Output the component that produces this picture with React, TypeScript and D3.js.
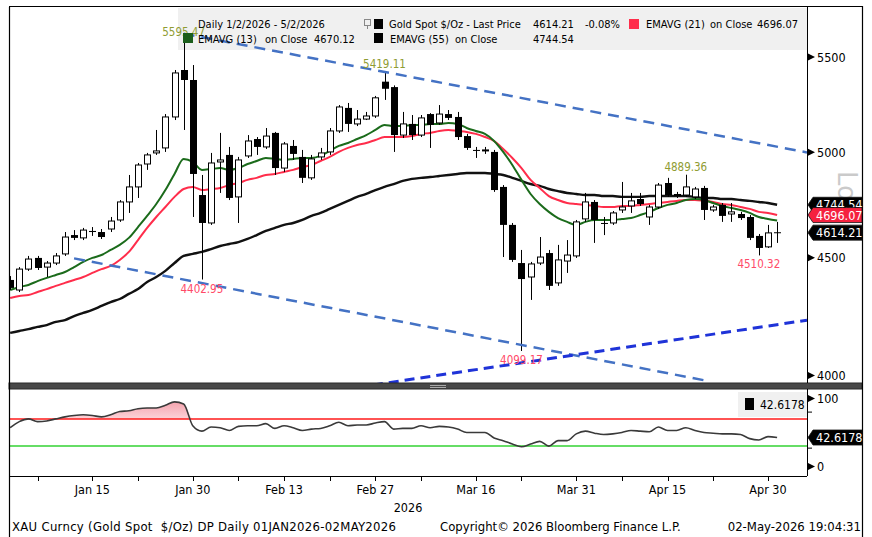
import React from "react";
import * as d3 from "d3";

const dates: string[] = [
  "2026-01-02","2026-01-05","2026-01-06","2026-01-07","2026-01-08","2026-01-09","2026-01-12","2026-01-13","2026-01-14","2026-01-15","2026-01-16","2026-01-19","2026-01-20","2026-01-21","2026-01-22","2026-01-23","2026-01-26","2026-01-27","2026-01-28","2026-01-29","2026-01-30",
  "2026-02-02","2026-02-03","2026-02-04","2026-02-05","2026-02-06","2026-02-09","2026-02-10","2026-02-11","2026-02-12","2026-02-13","2026-02-16","2026-02-17","2026-02-18","2026-02-19","2026-02-20","2026-02-23","2026-02-24","2026-02-25","2026-02-26","2026-02-27",
  "2026-03-02","2026-03-03","2026-03-04","2026-03-05","2026-03-06","2026-03-09","2026-03-10","2026-03-11","2026-03-12","2026-03-13","2026-03-16","2026-03-17","2026-03-18","2026-03-19","2026-03-20","2026-03-23","2026-03-24","2026-03-25","2026-03-26","2026-03-27","2026-03-30","2026-03-31",
  "2026-04-01","2026-04-02","2026-04-06","2026-04-07","2026-04-08","2026-04-09","2026-04-10","2026-04-13","2026-04-14","2026-04-15","2026-04-16","2026-04-17","2026-04-20","2026-04-21","2026-04-22","2026-04-23","2026-04-24","2026-04-27","2026-04-28","2026-04-29","2026-04-30",
  "2026-05-01",
];

const open: number[] = [4401,4357,4449,4499,4458,4476,4517,4603,4590,4622, 4617,4631,4673,4758,4830,4942,4997,5022,5180,5429, 5375,4791,4659,4952,4987,4782,4982,5067,5027,5098, 4922,5032,4977,4874,4977,5002,5108,5227,5144,5169, 5185,5366,5337,5087,5144,5087,5195,5149,5195,5180, 5082,5012,5010,5002,4830,4650,4476,4414,4476,4521, 4388,4485,4508,4678,4758,4659,4659,4720,4739,4772, 4687,4734,4849,4796,4791,4782,4825,4720,4744,4701, 4701,4687,4599,4549,4616];
const high: number[] = [4418,4458,4508,4508,4485,4521,4617,4626,4636,4640, 4631,4687,4767,4888,4947,4997,5113,5195,5429,5595.47, 5456,4888,4997,5098,5027,4977,5087,5077,5123,5103, 5052,5062,5012,4987,5022,5123,5242,5253,5216,5206, 5290,5419.11,5346,5206,5190,5190,5200,5242,5216,5206, 5093,5027,5027,5012,4839,4659,4535,4481,4594,4535, 4558,4580,4673,4801,4767,4687,4715,4854,4801,4801, 4744,4849,4874,4806,4889.36,4830,4835,4744,4753,4753, 4711,4696,4608,4650,4664];
const low: number[] = [4357,4348,4441,4445,4414,4467,4508,4580,4580,4599, 4585,4617,4664,4706,4777,4913,4987,5002,5164,5113, 4687,4402.95,4650,4801,4767,4659,4972,4987,5017,4888, 4903,4962,4849,4864,4962,4987,5098,5103,5133,5164, 5175,5269,5002,5072,5062,5077,5022,5139,5164,5062, 5012,4972,4992,4806,4503,4481,4099.17,4314,4467,4357, 4375,4432,4499,4664,4567,4603,4650,4706,4706,4739, 4650,4725,4782,4777,4782,4772,4673,4711,4664,4664, 4673,4580,4510.32,4544,4567];
const close: number[] = [4366,4449,4494,4454,4476,4508,4594,4590,4626,4617, 4594,4668,4758,4830,4937,4987,5007,5180,5413,5375, 4893,4659,4947,4962,4777,4962,5057,5027,5082,4922, 5042,4992,4874,4967,4997,5108,5232,5144,5169,5185, 5280,5328,5087,5144,5087,5175,5139,5195,5175,5077, 5022,5007,5012,4815,4650,4490,4405,4472,4503,4375, 4490,4512,4664,4758,4673,4655,4706,4734,4763,4748, 4734,4839,4791,4786,4830,4820,4720,4734,4692,4711, 4682,4590,4544,4613,4614.21];

const ema13: number[] = [4357,4370,4379,4396,4410,4423,4436,4458,4481,4499, 4512,4535,4558,4590,4640,4692,4748,4815,4893,4967, 4952,4913,4917,4922,4913,4922,4942,4957,4972,4967, 4962,4967,4972,4972,4982,5007,5032,5047,5067,5087, 5113,5139,5133,5133,5139,5139,5144,5144,5149,5144, 5123,5108,5093,5057,5002,4937,4864,4796,4748,4711, 4682,4664,4650,4664,4673,4673,4673,4678,4682,4696, 4711,4729,4744,4753,4767,4772,4767,4753,4739,4729, 4720,4706,4687,4678,4670.12];
const ema21: number[] = [4322,4331,4335,4348,4361,4375,4388,4401,4414,4432, 4449,4463,4490,4526,4580,4636,4687,4734,4782,4820, 4830,4815,4820,4825,4839,4849,4864,4874,4888,4893, 4903,4913,4927,4937,4957,4977,5002,5022,5037,5047, 5062,5077,5077,5077,5082,5093,5098,5108,5113,5108, 5103,5093,5077,5057,5017,4972,4922,4864,4825,4786, 4767,4753,4748,4744,4739,4734,4734,4739,4739,4744, 4748,4753,4758,4763,4767,4767,4763,4758,4748,4744, 4734,4725,4711,4706,4696.07];
const ema55: number[] = [4174,4182,4190,4199,4207,4220,4228,4245,4258,4271, 4288,4305,4318,4340,4361,4392,4414,4441,4476,4508, 4517,4526,4539,4553,4562,4571,4585,4603,4622,4636, 4650,4659,4673,4692,4706,4725,4744,4763,4782,4796, 4815,4830,4844,4859,4869,4874,4878,4883,4888,4893, 4898,4898,4898,4893,4888,4874,4859,4844,4835,4820, 4810,4801,4796,4791,4791,4786,4786,4782,4782,4782, 4786,4786,4786,4786,4786,4782,4777,4777,4772,4772, 4767,4763,4758,4753,4744.54];
const rsi: number[] = [57,66,70,66,67,70,73,75,76,75, 73,76,81,82,85,86,86,90,95,92, 60,52,58,57,53,59,60,60,63,56, 60,57,53,55,56,60,65,60,61,61, 64,66,55,56,56,60,57,59,58,55, 50,50,50,42,38,33,29,33,37,30, 38,38,48,52,49,47,48,50,53,52, 51,58,53,53,57,53,50,49,48,48, 47,41,39,44,42.6178];

const priceTicks: number[] = [4000, 4500, 5000, 5500];
const rsiTicks: number[] = [0, 100];
const rsiMinorTicks: number[] = [80, 27];
const rsiLevels: number[] = [70, 30];
const labelDates: string[] = ["2026-01-15","2026-01-30","2026-02-13","2026-02-27","2026-03-16","2026-03-31","2026-04-15","2026-04-30"];
const labelTexts: string[] = ["Jan 15","Jan 30","Feb 13","Feb 27","Mar 16","Mar 31","Apr 15","Apr 30"];
const minorDates: string[] = ["2026-01-07","2026-01-22","2026-02-06","2026-02-20","2026-03-06","2026-03-23","2026-04-08","2026-04-22"];
const highDates: string[] = ["2026-01-29","2026-03-02","2026-04-17"];
const highValues: number[] = [5595.47, 5419.11, 4889.36];
const lowDates: string[] = ["2026-02-02","2026-03-23","2026-04-29"];
const lowValues: number[] = [4402.95, 4099.17, 4510.32];
// trendline anchors: [trading-day index, price]
const upperTrend: number[][] = [[19, 5630], [87, 5002]];
const lowerTrend: number[][] = [[7, 4497], [76, 3981]];
const risingTrend: number[][] = [[58, 4062], [87, 4226]];

const FONT = "'DejaVu Sans Condensed', 'Liberation Sans Narrow', 'DejaVu Sans', sans-serif";

export default function App() {
  const W = 872, H = 537;
  const L = 9, R = 807, RO = 862, T = 7, MB = 383, SB = 389, RB = 476;
  const n = dates.length;
  const x = d3.scaleLinear().domain([0, n - 1]).range([10.17, 777.1]);
  const y = d3.scaleLog().domain([4000, 5500]).range([375.5, 57]);
  const yr = d3.scaleLinear().domain([0, 100]).range([466.5, 398.5]);
  const idx = (d: string) => dates.indexOf(d);

  const pline = (arr: number[]) =>
    d3.line<number>().x((_, j) => x(j)).y((v) => y(v)).curve(d3.curveMonotoneX)(arr) || "";
  const rline = d3.line<number>().x((_, j) => x(j)).y((v) => yr(v)).curve(d3.curveMonotoneX)(rsi) || "";
  const rAreaHi = d3.area<number>().x((_, j) => x(j)).y0(yr(70)).y1((v) => yr(Math.max(v, 70))).curve(d3.curveMonotoneX)(rsi) || "";
  const rAreaLo = d3.area<number>().x((_, j) => x(j)).y0(yr(30)).y1((v) => yr(Math.min(v, 30))).curve(d3.curveMonotoneX)(rsi) || "";

  const seg = (a: number[], b: number[], xs: number, xe: number) => {
    const x1 = x(a[0]), y1 = y(a[1]), x2 = x(b[0]), y2 = y(b[1]);
    const m = (y2 - y1) / (x2 - x1);
    return { x1: xs, y1: y1 + m * (xs - x1), x2: xe, y2: y1 + m * (xe - x1) };
  };
  const up = seg(upperTrend[0], upperTrend[1], x(upperTrend[0][0]), R);
  const lo = seg(lowerTrend[0], lowerTrend[1], x(lowerTrend[0][0]), x(lowerTrend[1][0]));
  const ri = seg(risingTrend[0], risingTrend[1], L, R);

  const tag = (cy: number, fill: string, label: string, key: string) => (
    <g key={key}>
      <path d={`M${R + 1},${cy} L${R + 6},${cy - 7.5} L${RO},${cy - 7.5} L${RO},${cy + 7.5} L${R + 6},${cy + 7.5} Z`} fill={fill} stroke="#111" strokeWidth={0.8} />
      <text x={R + 9} y={cy + 4.5} fill="#fff" fontSize={12.5} fontFamily={FONT}>{label}</text>
    </g>
  );

  const lastIdx = n - 1;

  return (
    <svg width={W} height={H} style={{ position: "absolute", left: 0, top: 0, background: "#fff" }} fontFamily={FONT}>
      <defs>
        <clipPath id="mainClip"><rect x={L} y={T} width={R - L} height={MB - T} /></clipPath>
        <clipPath id="rsiClip"><rect x={L} y={SB} width={R - L} height={RB - SB} /></clipPath>
        <linearGradient id="pinkGrad" gradientUnits="userSpaceOnUse" x1={0} y1={yr(100)} x2={0} y2={yr(70)}>
          <stop offset="0" stopColor="#f49aa6" />
          <stop offset="1" stopColor="#fbd3d8" />
        </linearGradient>
      </defs>
      <rect x={0} y={0} width={W} height={H} fill="#fff" />

      {/* log-scale watermark (behind the value tags) */}
      <text transform={`translate(838,171) rotate(90)`} fontSize={26} fill="rgba(150,150,150,0.5)" fontFamily="'DejaVu Sans', sans-serif">Lo</text>

      <rect x={178} y={8} width={R - 178} height={42} fill="#f0f0f0" />

      <g clipPath="url(#mainClip)">
        <path d={pline(ema55)} fill="none" stroke="#111" strokeWidth={2.4} />
        <path d={pline(ema21)} fill="none" stroke="#ff2d4b" strokeWidth={2} />
        <path d={pline(ema13)} fill="none" stroke="#1b6b1b" strokeWidth={2} />
        {dates.map((d, j) => {
          const cx = Math.round(x(j));
          const o = open[j], c = close[j];
          const isUp = c >= o;
          const top = y(Math.max(o, c));
          const bot = y(Math.min(o, c));
          const h = Math.max(1, bot - top);
          return (
            <g key={d}>
              <line x1={cx + 0.5} x2={cx + 0.5} y1={y(high[j])} y2={y(low[j])} stroke="#000" strokeWidth={1} />
              {isUp ? (
                <rect x={cx - 2.5} y={top} width={6} height={h} fill="#fff" stroke="#000" strokeWidth={1} />
              ) : (
                <rect x={cx - 3} y={top} width={7} height={h} fill="#000" />
              )}
            </g>
          );
        })}
        <line x1={up.x1} y1={up.y1} x2={up.x2} y2={up.y2} stroke="#4472c4" strokeWidth={2.5} strokeDasharray="11 7" />
        <line x1={lo.x1} y1={lo.y1} x2={lo.x2} y2={lo.y2} stroke="#4472c4" strokeWidth={2.5} strokeDasharray="11 7" />
        <line x1={ri.x1} y1={ri.y1} x2={ri.x2} y2={ri.y2} stroke="#1f33d8" strokeWidth={3} strokeDasharray="10 6" />
      </g>

      {highDates.map((d, k) => (
        <text key={"h" + d} x={x(idx(d))} y={y(highValues[k]) - 4} textAnchor="middle" fontSize={11.5} fill="#8f9c32">{highValues[k].toFixed(2)}</text>
      ))}
      {lowDates.map((d, k) => (
        <text key={"l" + d} x={x(idx(d))} y={y(lowValues[k]) + 13} textAnchor="middle" fontSize={11.5} fill="#ff4a68">{lowValues[k].toFixed(2)}</text>
      ))}

      <g fontSize={11} fill="#000">
        <text x={198} y={28}>Daily 1/2/2026 - 5/2/2026</text>
        <rect x={364.5} y={19.5} width={6} height={6} fill="none" stroke="#888" strokeWidth={1} />
        <line x1={367.5} x2={367.5} y1={25.5} y2={29} stroke="#888" />
        <rect x={374} y={19} width={9} height={10} fill="#000" />
        <text x={389} y={28}>Gold Spot $/Oz - Last Price</text>
        <text x={533} y={28}>{close[lastIdx].toFixed(2)}</text>
        <text x={585} y={28}>-0.08%</text>
        <rect x={629} y={19} width={10} height={10} fill="#ff2d4b" />
        <text x={646} y={28}>EMAVG (21)</text>
        <text x={710} y={28}>on Close</text>
        <text x={798} y={28} textAnchor="end">{ema21[lastIdx].toFixed(2)}</text>
        <rect x={183} y={33} width={10} height={10} fill="#1b5e1b" />
        <text x={198} y={43}>EMAVG (13)</text>
        <text x={265} y={43}>on Close</text>
        <text x={314} y={43}>{ema13[lastIdx].toFixed(2)}</text>
        <rect x={374} y={33} width={9} height={10} fill="#000" />
        <text x={390} y={43}>EMAVG (55)</text>
        <text x={455} y={43}>on Close</text>
        <text x={533} y={43}>{ema55[lastIdx].toFixed(2)}</text>
      </g>

      <rect x={L} y={MB} width={RO - L} height={SB - MB} fill="#484848" stroke="#2a2a2a" strokeWidth={1} />
      <line x1={430} x2={446} y1={385.5} y2={385.5} stroke="#aaa" />
      <line x1={430} x2={446} y1={387.5} y2={387.5} stroke="#aaa" />

      <g clipPath="url(#rsiClip)">
        <path d={rAreaHi} fill="url(#pinkGrad)" />
        <path d={rAreaLo} fill="#2e9e3a" />
        <line x1={L} x2={R} y1={yr(rsiLevels[0])} y2={yr(rsiLevels[0])} stroke="#ff1a1a" strokeWidth={1.5} />
        <line x1={L} x2={R} y1={yr(rsiLevels[1])} y2={yr(rsiLevels[1])} stroke="#66dd66" strokeWidth={2} />
        <path d={rline} fill="none" stroke="#3a3a3a" strokeWidth={1.6} />
      </g>
      <rect x={738} y={392} width={R - 738} height={25} fill="#f0f0f0" />
      <rect x={745} y={398} width={9} height={12} fill="#000" />
      <text x={760} y={409} fontSize={12}>{rsi[lastIdx].toFixed(4)}</text>

      <line x1={L + 0.5} x2={L + 0.5} y1={T} y2={H} stroke="#000" strokeWidth={1.2} />
      <line x1={L} x2={RO} y1={6.5} y2={6.5} stroke="#000" strokeWidth={1.2} />
      <line x1={RO + 0.5} x2={RO + 0.5} y1={6} y2={H} stroke="#000" strokeWidth={1.2} />
      <line x1={R + 0.5} x2={R + 0.5} y1={T} y2={MB} stroke="#000" strokeWidth={1} />
      <line x1={R + 0.5} x2={R + 0.5} y1={SB} y2={RB} stroke="#000" strokeWidth={1} />
      <line x1={L} x2={R} y1={RB + 0.5} y2={RB + 0.5} stroke="#000" strokeWidth={1} />

      {priceTicks.map((v) => (
        <g key={"p" + v}>
          <path d={`M${R + 1},${y(v) - 3.5} L${R + 8},${y(v)} L${R + 1},${y(v) + 3.5} Z`} fill="#000" />
          <text x={R + 10} y={y(v) + 4.5} fontSize={12.5} fill="#000">{v}</text>
        </g>
      ))}
      {rsiTicks.map((v) => (
        <g key={"r" + v}>
          <path d={`M${R + 1},${yr(v) - 3.5} L${R + 8},${yr(v)} L${R + 1},${yr(v) + 3.5} Z`} fill="#000" />
          <text x={R + 10} y={yr(v) + 4.5} fontSize={12.5} fill="#000">{v}</text>
        </g>
      ))}
      {rsiMinorTicks.map((v) => (
        <line key={"rm" + v} x1={R + 1} x2={R + 5} y1={yr(v)} y2={yr(v)} stroke="#000" />
      ))}

      {tag(y(ema55[lastIdx]), "#000", ema55[lastIdx].toFixed(2), "t55")}
      {tag(y(ema21[lastIdx]), "#f5213f", ema21[lastIdx].toFixed(2), "t21")}
      {tag(y(close[lastIdx]), "#000", close[lastIdx].toFixed(2), "tc")}
      {tag(yr(rsi[lastIdx]), "#000", rsi[lastIdx].toFixed(4), "tr")}

      {labelDates.concat(minorDates).map((d) => (
        <line key={"t" + d} x1={Math.round(x(idx(d))) + 0.5} x2={Math.round(x(idx(d))) + 0.5} y1={RB} y2={RB + 5} stroke="#000" />
      ))}
      {labelDates.map((d, k) => (
        <text key={"xl" + d} x={x(idx(d))} y={494} textAnchor="middle" fontSize={12.5} fill="#000">{labelTexts[k]}</text>
      ))}
      <text x={408} y={512} textAnchor="middle" fontSize={12.5} fill="#000">2026</text>

      <g fontSize={13} fill="#000">
        <text x={12} y={531} textLength={384} lengthAdjust="spacing">{"XAU Curncy (Gold Spot\u00a0\u00a0$/Oz) DP Daily 01JAN2026-02MAY2026"}</text>
        <text x={440} y={531}>Copyright© 2026 Bloomberg Finance L.P.</text>
        <text x={861} y={531} textAnchor="end">02-May-2026 19:04:31</text>
      </g>
    </svg>
  );
}
